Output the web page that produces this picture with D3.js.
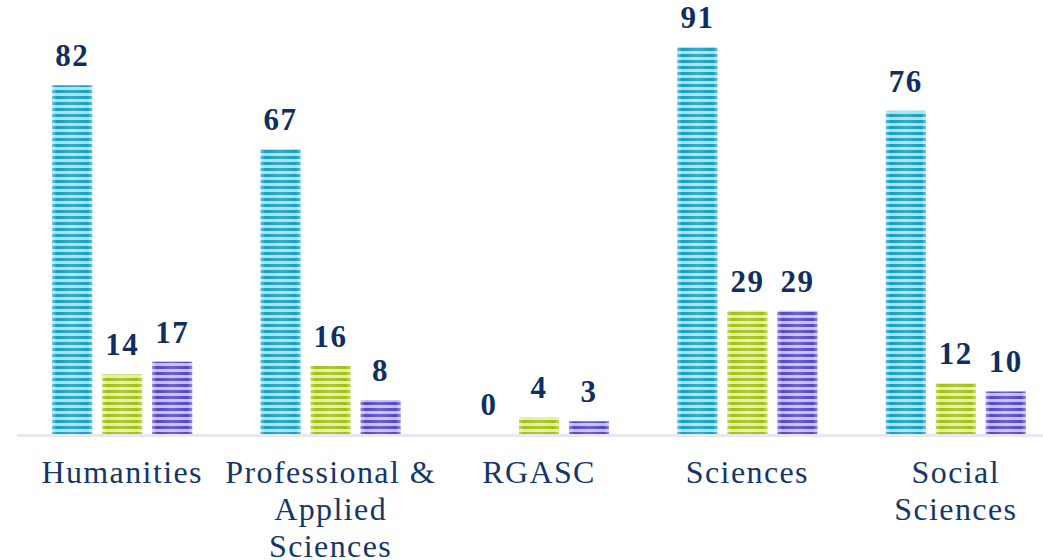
<!DOCTYPE html>
<html>
<head>
<meta charset="utf-8">
<script src="https://cdn.jsdelivr.net/npm/d3@7"></script>
<style>
  body { margin: 0; background: #fff; }
  svg { display: block; }
</style>
</head>
<body>
<svg id="chart" width="1043" height="560"></svg>
<script>
// data
var categories = ["Humanities", "Professional & Applied Sciences", "RGASC", "Sciences", "Social Sciences"];
var categoryLines = [["Humanities"], ["Professional &", "Applied", "Sciences"], ["RGASC"], ["Sciences"], ["Social", "Sciences"]];
var series1 = [82, 67, 0, 91, 76];
var series2 = [14, 16, 4, 29, 12];
var series3 = [17, 8, 3, 29, 10];

var svg = d3.select("svg#chart"),
    width = +svg.attr("width"),
    height = +svg.attr("height");

var serif = "'Liberation Serif'";

var baseY = 434;

var x = d3.scaleBand()
    .domain(categories)
    .range([18, 1060]);

var y = d3.scaleLinear()
    .domain([0, 91])
    .range([baseY, 47]);

var colours = [
  { dark: "#149ec0", light: "#a6e0ee" },
  { dark: "#a2bf14", light: "#e4eea0" },
  { dark: "#5547c4", light: "#c2bdf0" }
];

// striped fills
var defs = svg.append("defs");
colours.forEach(function(c, i) {
  var p = defs.append("pattern")
      .attr("id", "stripe" + i)
      .attr("patternUnits", "userSpaceOnUse")
      .attr("width", 8)
      .attr("height", 6);
  p.append("rect").attr("width", 8).attr("height", 6).attr("fill", c.light);
  p.append("rect").attr("y", 0).attr("width", 8).attr("height", 3).attr("fill", c.dark);
});

// gloss across each bar, lighter in the middle, darker edges
var gloss = defs.append("linearGradient")
    .attr("id", "gloss")
    .attr("x1", 0).attr("x2", 1).attr("y1", 0).attr("y2", 0);
gloss.append("stop").attr("offset", "0%").attr("stop-color", "#fff").attr("stop-opacity", 0.35);
gloss.append("stop").attr("offset", "12%").attr("stop-color", "#fff").attr("stop-opacity", 0);
gloss.append("stop").attr("offset", "50%").attr("stop-color", "#fff").attr("stop-opacity", 0.15);
gloss.append("stop").attr("offset", "88%").attr("stop-color", "#fff").attr("stop-opacity", 0);
gloss.append("stop").attr("offset", "100%").attr("stop-color", "#fff").attr("stop-opacity", 0.35);

// axis line
svg.append("rect")
    .attr("x", 17)
    .attr("y", baseY)
    .attr("width", width - 17)
    .attr("height", 3)
    .attr("fill", "#e5e9ef");

var barW = 40, gap = 10;
var offsets = [-barW * 1.5 - gap, -barW / 2, barW / 2 + gap];

var rows = [];
categories.forEach(function(cat, ci) {
  [series1, series2, series3].forEach(function(s, si) {
    rows.push({ cat: cat, ci: ci, si: si, value: s[ci] });
  });
});

var cx = function(d) { return x(d.cat) + x.bandwidth() / 2; };

var bars = svg.append("g").selectAll("g")
    .data(rows)
    .enter().append("g");

bars.filter(function(d) { return d.value > 0; })
    .append("rect")
    .attr("x", function(d) { return cx(d) + offsets[d.si]; })
    .attr("y", function(d) { return y(d.value); })
    .attr("width", barW)
    .attr("height", function(d) { return baseY - y(d.value); })
    .attr("fill", function(d) { return "url(#stripe" + d.si + ")"; });

bars.filter(function(d) { return d.value > 0; })
    .append("rect")
    .attr("x", function(d) { return cx(d) + offsets[d.si]; })
    .attr("y", function(d) { return y(d.value); })
    .attr("width", barW)
    .attr("height", function(d) { return baseY - y(d.value); })
    .attr("fill", "url(#gloss)");

// value labels
bars.append("text")
    .attr("x", function(d) { return cx(d) + offsets[d.si] + barW / 2; })
    .attr("y", function(d) { return y(d.value) - 19; })
    .attr("text-anchor", "middle")
    .style("font-family", serif)
    .style("font-weight", "bold")
    .style("font-size", "31px")
    .style("letter-spacing", "1.5px")
    .attr("fill", "#0e2f5f")
    .text(function(d) { return d.value; });

// category labels
var cl = svg.append("g").selectAll("text")
    .data(categories)
    .enter().append("text")
    .attr("x", function(d) { return x(d) + x.bandwidth() / 2; })
    .attr("y", 483)
    .attr("text-anchor", "middle")
    .style("font-family", serif)
    .style("font-size", "32px")
    .style("letter-spacing", "1.4px")
    .attr("fill", "#14366a");

cl.selectAll("tspan")
    .data(function(d, i) { return categoryLines[i]; })
    .enter().append("tspan")
    .attr("x", function() { var p = d3.select(this.parentNode).datum(); return x(p) + x.bandwidth() / 2; })
    .attr("dy", function(d, i) { return i === 0 ? 0 : 37; })
    .text(function(d) { return d; });
</script>
</body>
</html>
